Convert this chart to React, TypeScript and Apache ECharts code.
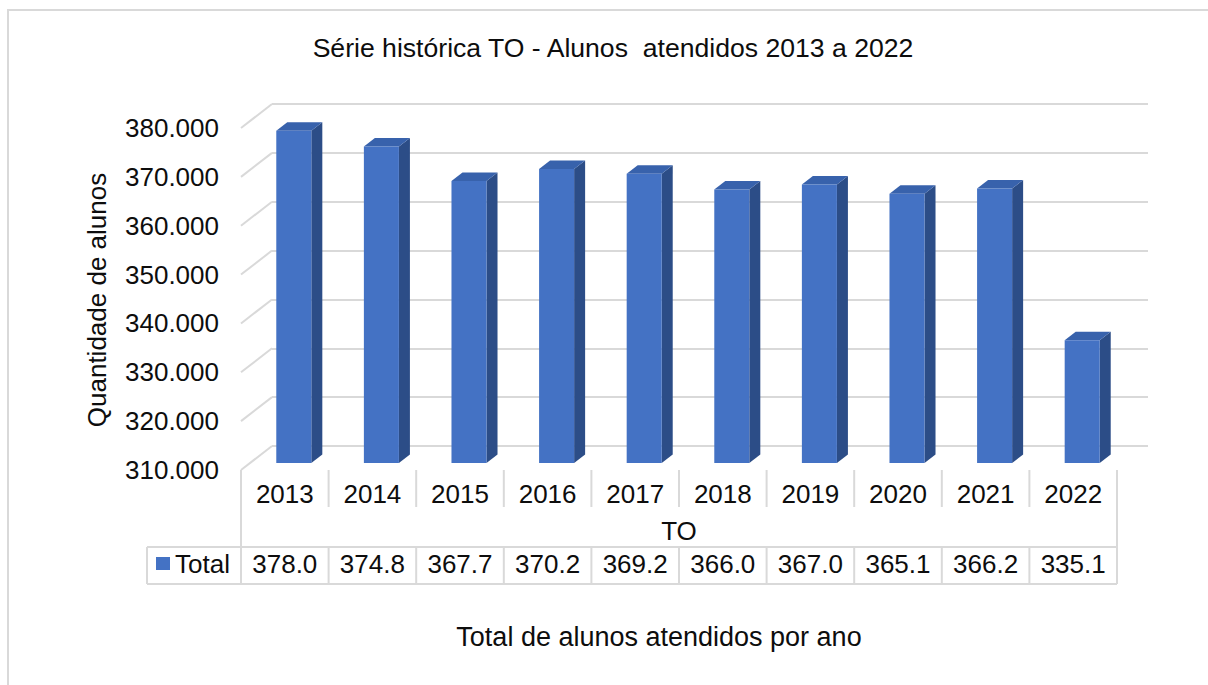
import React, { useEffect, useRef } from "react";
import * as echarts from "echarts";

const categories = ["2013", "2014", "2015", "2016", "2017", "2018", "2019", "2020", "2021", "2022"];
const totals = [378.0, 374.8, 367.7, 370.2, 369.2, 366.0, 367.0, 365.1, 366.2, 335.1];
const yTicks = [310, 320, 330, 340, 350, 360, 370, 380];
const Y_MIN = 310;
const Y_MAX = 380;
const Y_STEP = 10;

const TITLE = "Série histórica TO - Alunos  atendidos 2013 a 2022";
const Y_TITLE = "Quantidade de alunos";
const X_TITLE = "Total de alunos atendidos por ano";
const GROUP_LABEL = "TO";
const SERIES_NAME = "Total";

const FONT = "'Liberation Sans', Arial, sans-serif";
const TXT = "#0d0d0d";
const LINE = "#d9d9d9";
const FRONT = "#4472C4";
const SIDE = "#2C4D87";
const TOP = "#3862AC";

// layout
const G = { left: 241, top: 128, width: 876, height: 342 };
const BACK = { dx: 31, dy: -24 };
const BAR_OFF = { dx: 9, dy: -7 };
const DEPTH = { dx: 11, dy: -8.5 };

export default function App() {
  const ref = useRef<HTMLDivElement>(null);
  useEffect(() => {
    document.body.style.margin = "0";
    const chart = echarts.init(ref.current!, undefined, { renderer: "svg" });
    const bottom = G.top + G.height;
    const tableRowTop = 547;
    const tableRowBottom = 584;
    const catRowBottom = 507;

    const option: any = {
      animation: false,
      backgroundColor: "#fff",
      textStyle: { fontFamily: FONT },
      grid: [
        { left: G.left, top: G.top, width: G.width, height: G.height },
        { left: G.left + BACK.dx, top: G.top + BACK.dy, width: G.width, height: G.height },
      ],
      xAxis: [
        {
          type: "category",
          gridIndex: 0,
          data: categories,
          axisLine: { show: false },
          axisTick: { show: false },
          axisLabel: {
            fontSize: 26,
            fontFamily: FONT,
            color: TXT,
            margin: 24,
            verticalAlign: "middle",
          },
        },
        {
          type: "category",
          gridIndex: 1,
          data: categories,
          show: false,
        },
      ],
      yAxis: [
        {
          type: "value",
          gridIndex: 0,
          min: Y_MIN,
          max: Y_MAX,
          interval: Y_STEP,
          splitLine: { show: false },
          axisLine: { show: false },
          axisTick: { show: false },
          axisLabel: {
            fontSize: 26,
            fontFamily: FONT,
            color: TXT,
            margin: 22,
            formatter: (v: number) => v.toFixed(3),
          },
        },
        {
          type: "value",
          gridIndex: 1,
          min: Y_MIN,
          max: Y_MAX,
          interval: Y_STEP,
          axisLine: { show: false },
          axisTick: { show: false },
          axisLabel: { show: false },
          splitLine: { show: true, lineStyle: { color: LINE, width: 2 } },
        },
      ],
      series: [
        {
          // diagonal side-wall lines of the gridlines
          type: "custom",
          xAxisIndex: 0,
          yAxisIndex: 0,
          silent: true,
          clip: false,
          data: yTicks.map((t) => [0, t]),
          renderItem: (params: any, api: any) => {
            const c = api.coord([0, api.value(1)]);
            const bw = api.size([1, 0])[0];
            const xl = c[0] - bw / 2;
            return {
              type: "line",
              shape: { x1: xl, y1: c[1], x2: xl + BACK.dx, y2: c[1] + BACK.dy },
              style: { stroke: LINE, lineWidth: 2 },
            };
          },
        },
        {
          name: SERIES_NAME,
          type: "custom",
          xAxisIndex: 0,
          yAxisIndex: 0,
          clip: false,
          data: totals.map((v, i) => [i, v]),
          renderItem: (params: any, api: any) => {
            const i = api.value(0);
            const v = api.value(1);
            const top = api.coord([i, v]);
            const base = api.coord([i, Y_MIN]);
            const bw = api.size([1, 0])[0] * 0.4;
            const x0 = top[0] + BAR_OFF.dx - bw / 2;
            const x1 = x0 + bw;
            const yT = top[1] + BAR_OFF.dy;
            const yB = base[1] + BAR_OFF.dy;
            return {
              type: "group",
              children: [
                {
                  type: "polygon",
                  shape: { points: [[x1, yB], [x1 + DEPTH.dx, yB + DEPTH.dy], [x1 + DEPTH.dx, yT + DEPTH.dy], [x1, yT]] },
                  style: { fill: SIDE },
                },
                {
                  type: "polygon",
                  shape: { points: [[x0, yT], [x0 + DEPTH.dx, yT + DEPTH.dy], [x1 + DEPTH.dx, yT + DEPTH.dy], [x1, yT]] },
                  style: { fill: TOP },
                },
                {
                  type: "rect",
                  shape: { x: x0, y: yT, width: bw, height: yB - yT },
                  style: { fill: FRONT },
                },
              ],
            };
          },
        },
        {
          // data table cells
          type: "custom",
          xAxisIndex: 0,
          yAxisIndex: 0,
          silent: true,
          clip: false,
          data: totals.map((v, i) => [i, v]),
          renderItem: (params: any, api: any) => {
            const i = api.value(0);
            const v = api.value(1);
            const c = api.coord([i, Y_MIN]);
            const bw = api.size([1, 0])[0];
            const xl = c[0] - bw / 2;
            const children: any[] = [
              {
                type: "text",
                style: {
                  text: v.toFixed(1),
                  x: c[0],
                  y: 564,
                  align: "center",
                  verticalAlign: "middle",
                  fontSize: 26,
                  fontFamily: FONT,
                  fill: TXT,
                },
              },
            ];
            if (i > 0) {
              children.push({
                type: "line",
                shape: { x1: xl, y1: c[1], x2: xl, y2: catRowBottom },
                style: { stroke: LINE, lineWidth: 2 },
              });
              children.push({
                type: "line",
                shape: { x1: xl, y1: tableRowTop, x2: xl, y2: tableRowBottom },
                style: { stroke: LINE, lineWidth: 2 },
              });
            }
            return { type: "group", children };
          },
        },
      ],
      graphic: [
        {
          type: "rect",
          silent: true,
          shape: { x: 8, y: 10, width: 1400, height: 900 },
          style: { fill: "none", stroke: LINE, lineWidth: 2 },
        },
        {
          type: "text",
          style: {
            text: TITLE,
            x: 613,
            y: 48,
            align: "center",
            verticalAlign: "middle",
            fontSize: 26.6,
            fontFamily: FONT,
            fill: TXT,
          },
        },
        {
          type: "text",
          x: 97,
          y: 300,
          rotation: Math.PI / 2,
          style: {
            text: Y_TITLE,
            x: 0,
            y: 0,
            align: "center",
            verticalAlign: "middle",
            fontSize: 26,
            fontFamily: FONT,
            fill: TXT,
          },
        },
        {
          type: "text",
          style: {
            text: X_TITLE,
            x: 659,
            y: 637,
            align: "center",
            verticalAlign: "middle",
            fontSize: 27,
            fontFamily: FONT,
            fill: TXT,
          },
        },
        {
          type: "text",
          style: {
            text: GROUP_LABEL,
            x: G.left + G.width / 2,
            y: 531,
            align: "center",
            verticalAlign: "middle",
            fontSize: 26,
            fontFamily: FONT,
            fill: TXT,
          },
        },
        {
          type: "line",
          shape: { x1: G.left, y1: bottom, x2: G.left, y2: tableRowBottom },
          style: { stroke: LINE, lineWidth: 2 },
        },
        {
          type: "line",
          shape: { x1: G.left + G.width, y1: bottom, x2: G.left + G.width, y2: tableRowBottom },
          style: { stroke: LINE, lineWidth: 2 },
        },
        {
          type: "line",
          shape: { x1: 147, y1: tableRowTop, x2: G.left + G.width, y2: tableRowTop },
          style: { stroke: LINE, lineWidth: 2 },
        },
        {
          type: "line",
          shape: { x1: 147, y1: tableRowBottom, x2: G.left + G.width, y2: tableRowBottom },
          style: { stroke: LINE, lineWidth: 2 },
        },
        {
          type: "line",
          shape: { x1: 147, y1: tableRowTop, x2: 147, y2: tableRowBottom },
          style: { stroke: LINE, lineWidth: 2 },
        },
        {
          type: "rect",
          shape: { x: 156, y: 557, width: 14, height: 13 },
          style: { fill: FRONT },
        },
        {
          type: "text",
          style: {
            text: SERIES_NAME,
            x: 175,
            y: 564,
            align: "left",
            verticalAlign: "middle",
            fontSize: 26,
            fontFamily: FONT,
            fill: TXT,
          },
        },
      ],
    };
    chart.setOption(option);
    return () => chart.dispose();
  }, []);
  return <div ref={ref} style={{ width: 1208, height: 685 }} />;
}
